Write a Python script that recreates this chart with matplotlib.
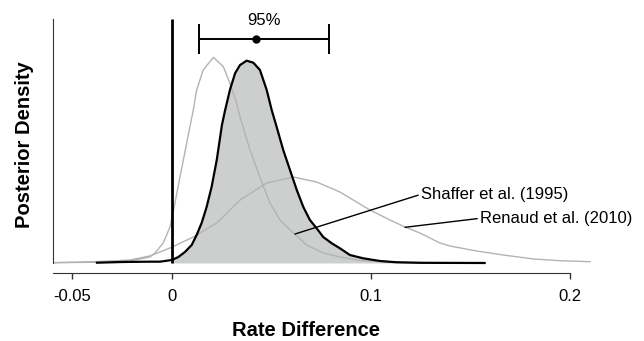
import matplotlib.pyplot as plt

plt.rcParams['font.family'] = ['Liberation Sans', 'DejaVu Sans']

# posterior (black, filled for x >= 0)
post_x = [-0.0377, -0.0246, -0.0111, -0.0060, 0.0, 0.0032, 0.0065, 0.0099, 0.0124, 0.0149,
          0.0174, 0.0199, 0.0225, 0.0251, 0.0266, 0.0291, 0.0317, 0.0342, 0.0375, 0.0409,
          0.0442, 0.0476, 0.0501, 0.0526, 0.0559, 0.0593, 0.0627, 0.0660, 0.0693, 0.0727,
          0.0760, 0.0803, 0.0844, 0.0894, 0.0961, 0.1045, 0.1129, 0.1246, 0.1571]
post_y = [0.05, 0.17, 0.22, 0.22, 0.5, 1.0, 1.83, 3.0, 4.67, 6.67,
          9.33, 12.67, 17.17, 23.0, 25.33, 28.83, 31.62, 33.0, 33.72, 33.38,
          32.17, 28.83, 25.5, 22.67, 18.83, 15.5, 12.17, 9.33, 7.17, 5.78,
          4.33, 3.28, 2.45, 1.33, 0.78, 0.33, 0.12, 0.03, 0.0]

# Shaffer et al. (1995)
shaf_x = [-0.0600, -0.0362, -0.0211, -0.0111, -0.0085, -0.0044, -0.0010, 0.0015, 0.0040, 0.0074,
          0.0107, 0.0124, 0.0157, 0.0208, 0.0258, 0.0291, 0.0325, 0.0342, 0.0392, 0.0442,
          0.0492, 0.0543, 0.0610, 0.0677, 0.0760, 0.0844, 0.0945, 0.1146, 0.1447]
shaf_y = [0.05, 0.13, 0.33, 1.0, 1.67, 3.33, 6.0, 10.0, 14.33, 20.0,
          25.5, 28.83, 32.17, 34.28, 32.72, 29.95, 26.62, 24.33, 18.83, 14.33,
          10.0, 7.17, 5.0, 3.0, 1.67, 1.0, 0.42, 0.12, 0.0]

# Renaud et al. (2010)
ren_x = [-0.0600, -0.0362, -0.0211, -0.0111, -0.0010, 0.0107, 0.0225, 0.0291, 0.0342, 0.0476,
         0.0610, 0.0727, 0.0844, 0.0894, 0.0995, 0.1095, 0.1171, 0.1246, 0.1347, 0.1397,
         0.1531, 0.1665, 0.1816, 0.1950, 0.2101]
ren_y = [0.05, 0.25, 0.5, 1.17, 2.5, 4.33, 6.67, 8.83, 10.5, 13.33,
         14.33, 13.5, 11.83, 10.83, 8.83, 7.17, 6.0, 5.0, 3.33, 2.83,
         2.0, 1.33, 0.67, 0.38, 0.22]

ci_lo, ci_mean, ci_hi = 0.0136, 0.0422, 0.079
xticks = [-0.05, 0, 0.1, 0.2]
xtick_labels = ['-0.05', '0', '0.1', '0.2']

fig = plt.figure(figsize=(6.44, 3.41), dpi=100)
ax = fig.add_axes([0.0818, 0.2003, 0.8499, 0.7704])
ax.set_xlim(-0.05995, 0.21508)
ax.set_ylim(-1.617, 42.17)

fx = [x for x in post_x if x >= 0]
fy = [y for x, y in zip(post_x, post_y) if x >= 0]
ax.fill_between(fx, 0, fy, color='#cdcfcf', lw=0, zorder=1)
ax.plot(shaf_x, shaf_y, color='#b3b3b3', lw=1, zorder=2)
ax.plot(ren_x, ren_y, color='#b3b3b3', lw=1, zorder=2)
ax.plot(post_x, post_y, color='black', lw=1.6, zorder=3)
ax.vlines(0, 0, 40.67, color='black', lw=2, zorder=4)

ax.errorbar(ci_mean, 37.28, xerr=[[ci_mean - ci_lo], [ci_hi - ci_mean]],
            fmt='o', color='black', ms=5, capsize=10.8, elinewidth=1.4, capthick=1.4)
ax.text((ci_lo + ci_hi) / 2, 40.4, '95%', ha='center', va='center', fontsize=12)

ax.annotate('Shaffer et al. (1995)', xy=(0.0618, 4.83), xytext=(0.1251, 11.45),
            fontsize=12, va='center', ha='left',
            arrowprops=dict(arrowstyle='-', color='black', lw=1, shrinkA=0, shrinkB=0,
                            relpos=(0, 0.5)))
ax.annotate('Renaud et al. (2010)', xy=(0.1171, 5.95), xytext=(0.1548, 7.45),
            fontsize=12, va='center', ha='left',
            arrowprops=dict(arrowstyle='-', color='black', lw=1, shrinkA=0, shrinkB=0,
                            relpos=(0, 0.5)))

for s in ['top', 'right']:
    ax.spines[s].set_visible(False)
ax.spines['bottom'].set_bounds(-0.06, 0.2)
ax.spines['left'].set_bounds(0, 40.67)
ax.spines['bottom'].set_color('#333333')
ax.spines['left'].set_color('#333333')
ax.set_xticks(xticks)
ax.set_xticklabels(xtick_labels)
ax.tick_params(axis='x', length=4.5, width=1, color='#333333', pad=7, labelsize=12)
ax.set_yticks([])

fig.text(306 / 644, 1 - 330 / 341, 'Rate Difference', ha='center', va='center',
         fontsize=14.5, fontweight='bold')
fig.text(25 / 644, 1 - 145 / 341, 'Posterior Density', ha='center', va='center',
         fontsize=14.5, fontweight='bold', rotation=90)

fig.savefig('out.png', dpi=100)
